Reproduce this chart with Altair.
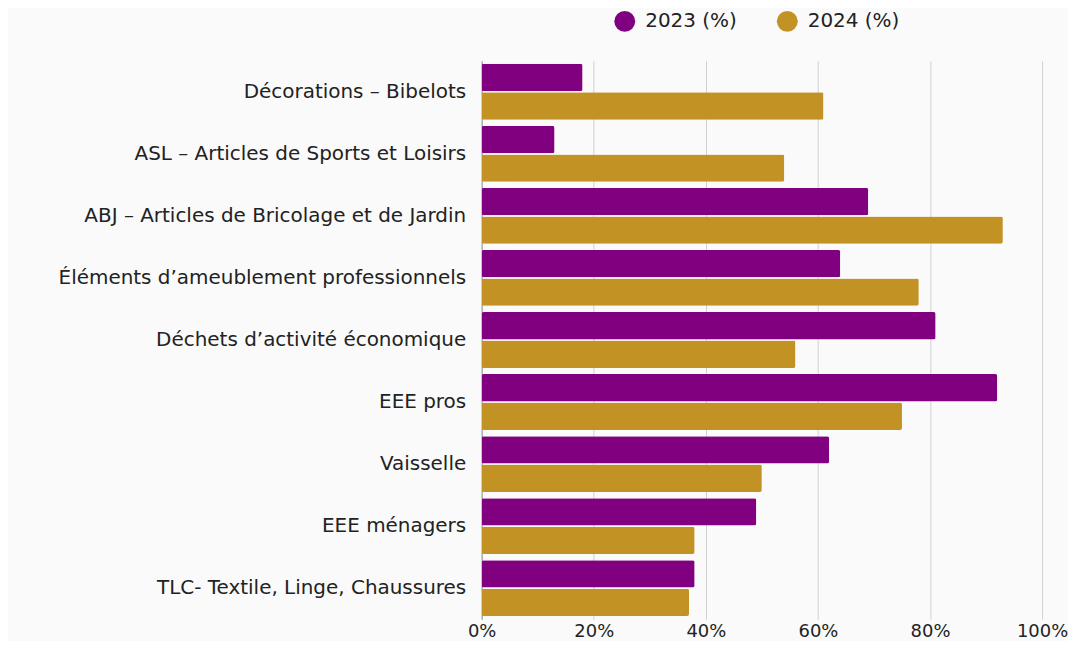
import altair as alt
import pandas as pd

categories = [
    "Décorations – Bibelots",
    "ASL – Articles de Sports et Loisirs",
    "ABJ – Articles de Bricolage et de Jardin",
    "Éléments d’ameublement professionnels",
    "Déchets d’activité économique",
    "EEE pros",
    "Vaisselle",
    "EEE ménagers",
    "TLC- Textile, Linge, Chaussures",
]
series = ["2023 (%)", "2024 (%)"]
values_2023 = [18, 13, 69, 64, 81, 92, 62, 49, 38]
values_2024 = [61, 54, 93, 78, 56, 75, 50, 38, 37]
colors = ["#800080", "#C39224"]

rows = []
for c, a, b in zip(categories, values_2023, values_2024):
    rows.append({"cat": c, "serie": series[0], "val": a / 100})
    rows.append({"cat": c, "serie": series[1], "val": b / 100})
df = pd.DataFrame(rows)

FONT = "DejaVu Sans"
FS = 20

chart = alt.Chart(df).mark_bar(cornerRadius=2).encode(
    y=alt.Y("cat:N", sort=categories, title=None,
            scale=alt.Scale(paddingInner=0.1, paddingOuter=0.05),
            axis=alt.Axis(labelFontSize=FS, labelColor="#222222", labelFont=FONT,
                          labelPadding=16, labelLimit=600, ticks=False,
                          domain=True, domainColor="#999999", domainWidth=1,
                          minExtent=475, maxExtent=475, grid=False)),
    yOffset=alt.YOffset("serie:N", sort=series,
                        scale=alt.Scale(paddingInner=0.04)),
    x=alt.X("val:Q", title=None,
            scale=alt.Scale(domain=[0, 1]),
            axis=alt.Axis(format="%", values=[0, 0.2, 0.4, 0.6, 0.8, 1.0],
                          labelFontSize=18, labelColor="#222222", labelFont=FONT,
                          labelPadding=3, labelFlush=False, ticks=False, domain=False,
                          grid=True, gridColor="#d0d0d0", gridWidth=1)),
    color=alt.Color("serie:N", sort=series,
                    scale=alt.Scale(domain=series, range=colors),
                    legend=alt.Legend(title=None, orient="none", direction="horizontal",
                                      legendX=133, legendY=-50,
                                      symbolType="circle", symbolSize=440,
                                      symbolStrokeWidth=0, columnPadding=40,
                                      labelFontSize=FS, labelFont=FONT,
                                      labelColor="#222222", labelOffset=10)),
).properties(
    width=562, height=560,
    padding={"left": 0, "top": 2, "right": 0, "bottom": 0},
    background="#fafafa",
).configure_view(stroke=None)

chart.save("out.html", embed_options={"renderer": "svg", "actions": False})
